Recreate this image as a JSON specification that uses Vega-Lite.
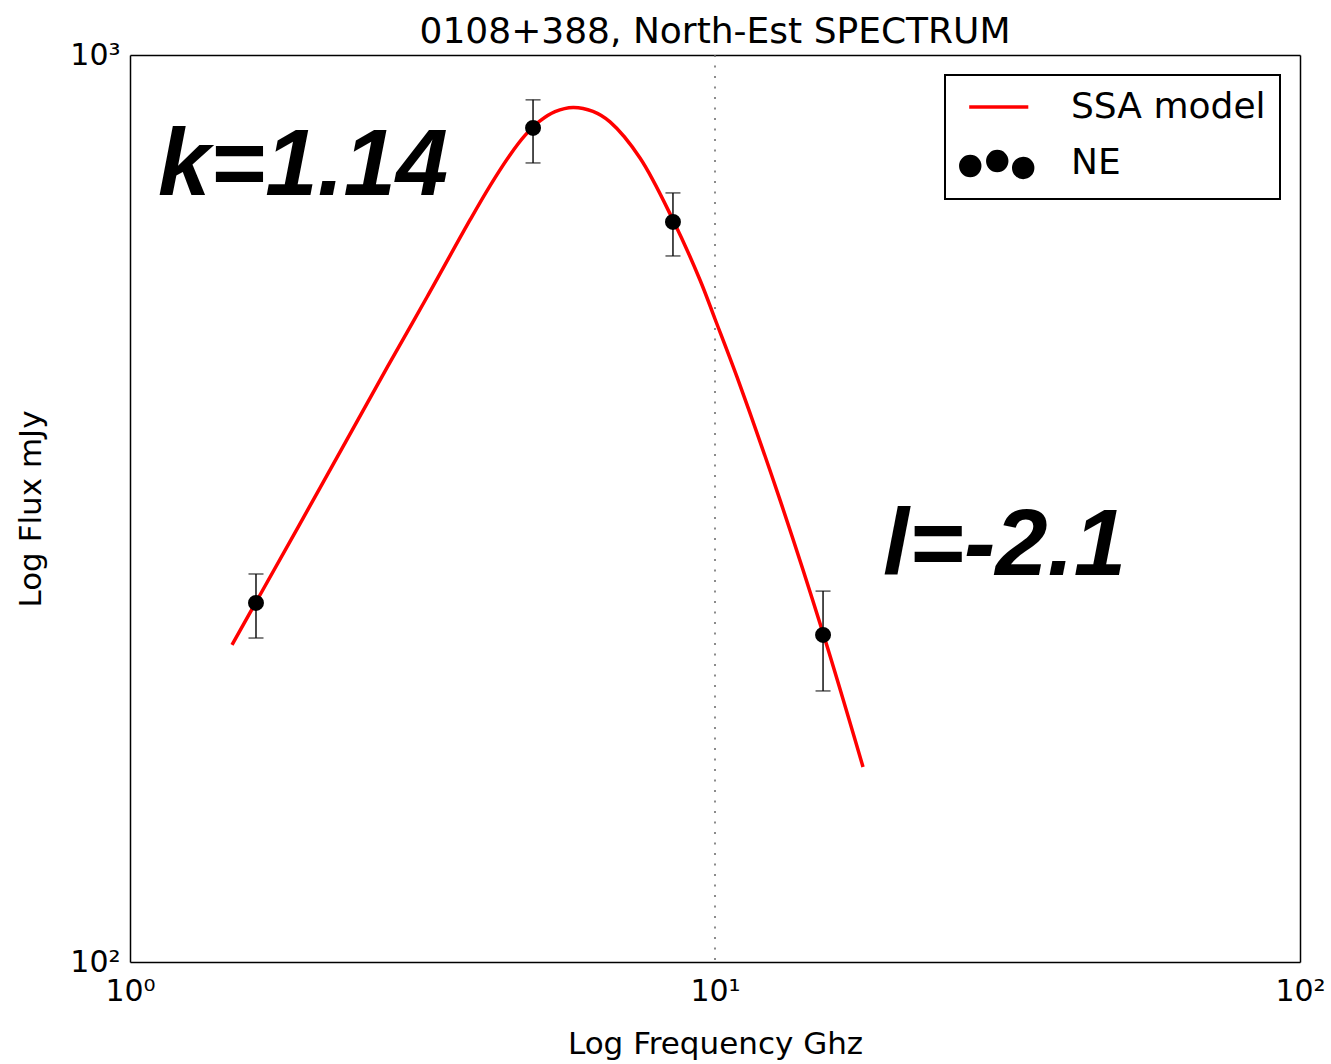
{
  "$schema": "https://vega.github.io/schema/vega-lite/v6.json",
  "width": 1170,
  "height": 907,
  "autosize": {"type": "none"},
  "padding": {"left": 130, "top": 55, "right": 31, "bottom": 102},
  "background": "white",
  "title": {"text": "0108+388, North-Est SPECTRUM", "font": "DejaVu Sans", "fontSize": 36, "fontWeight": "normal", "color": "black", "offset": 4, "dy": 15, "anchor": "middle"},
  "config": {
    "view": {"stroke": null},
    "axis": {
      "labelFont": "DejaVu Sans", "labelFontSize": 30, "labelColor": "black",
      "titleFont": "DejaVu Sans", "titleFontSize": 31, "titleFontWeight": "normal", "titleColor": "black",
      "domainColor": "black", "domainWidth": 1.5, "tickColor": "black", "tickWidth": 1.2, "tickSize": 0,
      "grid": false, "labelOverlap": false, "labelBound": false, "labelFlush": false
    }
  },
  "datasets": {
    "model": [
      {"nu": 1.494, "flux": 223.7, "series": "SSA model"},
      {"nu": 1.6423, "flux": 249.4, "series": "SSA model"},
      {"nu": 2.1127, "flux": 333.2, "series": "SSA model"},
      {"nu": 2.7606, "flux": 454.1, "series": "SSA model"},
      {"nu": 3.2194, "flux": 541.0, "series": "SSA model"},
      {"nu": 3.8129, "flux": 657.9, "series": "SSA model"},
      {"nu": 4.1246, "flux": 717.4, "series": "SSA model"},
      {"nu": 4.4628, "flux": 775.9, "series": "SSA model"},
      {"nu": 4.7338, "flux": 815.3, "series": "SSA model"},
      {"nu": 5.0218, "flux": 845.9, "series": "SSA model"},
      {"nu": 5.3283, "flux": 866.1, "series": "SSA model"},
      {"nu": 5.7195, "flux": 875.4, "series": "SSA model"},
      {"nu": 6.1848, "flux": 866.6, "series": "SSA model"},
      {"nu": 6.615, "flux": 843.8, "series": "SSA model"},
      {"nu": 7.4438, "flux": 770.0, "series": "SSA model"},
      {"nu": 8.4764, "flux": 657.9, "series": "SSA model"},
      {"nu": 9.427, "flux": 564.9, "series": "SSA model"},
      {"nu": 10.0, "flux": 511.6, "series": "SSA model"},
      {"nu": 10.904, "flux": 441.6, "series": "SSA model"},
      {"nu": 12.915, "flux": 323.2, "series": "SSA model"},
      {"nu": 15.298, "flux": 230.5, "series": "SSA model"},
      {"nu": 17.906, "flux": 164.1, "series": "SSA model"}
    ],
    "obs": [
      {"nu": 1.642, "flux": 248.8, "lo": 227.6, "hi": 267.8},
      {"nu": 4.886, "flux": 830.9, "lo": 760.3, "hi": 892.4},
      {"nu": 8.475, "flux": 654.6, "lo": 600.4, "hi": 704.6},
      {"nu": 15.30, "flux": 229.4, "lo": 199.0, "hi": 256.4}
    ],
    "notes": [
      {"nu": 1.1165, "flux": 700.9, "label": "k=1.14"},
      {"nu": 19.37, "flux": 267.1, "label": "l=-2.1"}
    ]
  },
  "resolve": {"axis": {"x": "independent", "y": "independent"}},
  "layer": [
    {
      "data": {"values": [{}]},
      "mark": {"type": "rule", "color": "#666666", "strokeWidth": 1.5, "strokeDash": [2, 8.5]},
      "encoding": {
        "x": {"datum": 10, "type": "quantitative", "scale": {"type": "log", "domain": [1, 100], "nice": false}, "axis": null}
      }
    },
    {
      "data": {"name": "model"},
      "mark": {"type": "line", "strokeWidth": 3.5, "interpolate": "catmull-rom", "clip": true},
      "encoding": {
        "x": {"field": "nu", "type": "quantitative", "scale": {"type": "log", "domain": [1, 100], "nice": false},
          "axis": {"orient": "bottom", "title": "Log Frequency Ghz", "values": [1,2,3,4,5,6,7,8,9,10,20,30,40,50,60,70,80,90,100],
            "labelExpr": "datum.value == 1 ? '10⁰' : datum.value == 10 ? '10¹' : datum.value == 100 ? '10²' : ''",
            "labelPadding": 14, "titleY": 91, "titleBaseline": "alphabetic",
            "encode": {"ticks": {"update": {"y2": {"signal": "(datum.value == 1 || datum.value == 10 || datum.value == 100) ? -10 : -5"}}}}}},
        "y": {"field": "flux", "type": "quantitative", "scale": {"type": "log", "domain": [100, 1000], "nice": false},
          "axis": {"orient": "left", "title": "Log Flux mJy", "values": [100,200,300,400,500,600,700,800,900,1000],
            "labelExpr": "datum.value == 100 ? '10²' : datum.value == 1000 ? '10³' : ''",
            "labelPadding": 10, "titleX": -90, "titleBaseline": "alphabetic",
            "encode": {"ticks": {"update": {"x2": {"signal": "(datum.value == 100 || datum.value == 1000) ? 10 : 5"}}}}}},
        "color": {"field": "series", "type": "nominal",
          "scale": {"domain": ["SSA model", "NE"], "range": ["#ff0000", "#000000"]},
          "legend": {"title": null, "orient": "top-right", "offset": 20, "padding": 14,
            "strokeColor": "black", "fillColor": "white",
            "symbolSize": 900, "labelOffset": 76, "rowPadding": 19, "labelLimit": 400,
            "labelFont": "DejaVu Sans", "labelFontSize": 36, "labelColor": "black",
            "encode": {
              "legend": {"update": {"strokeWidth": {"value": 2}}},
              "symbols": {"update": {
              "size": {"value": 900},
              "shape": {"signal": "datum.value === 'NE' ? 'M-1.08,0.2a0.63,0.63 0 1,0 1.26,0a0.63,0.63 0 1,0 -1.26,0Z M0.72,-0.13a0.63,0.63 0 1,0 1.26,0a0.63,0.63 0 1,0 -1.26,0Z M2.45,0.33a0.63,0.63 0 1,0 1.26,0a0.63,0.63 0 1,0 -1.26,0Z' : 'M-0.52,0H3.42'"},
              "fill": {"signal": "datum.value === 'NE' ? '#000000' : 'transparent'"},
              "stroke": {"signal": "datum.value === 'NE' ? 'transparent' : '#ff0000'"},
              "strokeWidth": {"value": 3.5},
              "opacity": {"value": 1}
            }}}}}
      }
    },
    {
      "data": {"name": "obs"},
      "mark": {"type": "rule", "color": "#111111", "strokeWidth": 1.5},
      "encoding": {
        "x": {"field": "nu", "type": "quantitative", "scale": {"type": "log", "domain": [1, 100], "nice": false},
          "axis": {"orient": "top", "title": null, "labels": false, "values": [1,2,3,4,5,6,7,8,9,10,20,30,40,50,60,70,80,90,100],
            "encode": {"ticks": {"update": {"y2": {"signal": "(datum.value == 1 || datum.value == 10 || datum.value == 100) ? 10 : 5"}}}}}},
        "y": {"field": "lo", "type": "quantitative", "scale": {"type": "log", "domain": [100, 1000], "nice": false},
          "axis": {"orient": "right", "title": null, "labels": false, "values": [100,200,300,400,500,600,700,800,900,1000],
            "encode": {"ticks": {"update": {"x2": {"signal": "(datum.value == 100 || datum.value == 1000) ? -10 : -5"}}}}}},
        "y2": {"field": "hi"}
      }
    },
    {
      "data": {"name": "obs"},
      "mark": {"type": "tick", "orient": "horizontal", "color": "#111111", "size": 15, "thickness": 1.5},
      "encoding": {
        "x": {"field": "nu", "type": "quantitative", "scale": {"type": "log", "domain": [1, 100], "nice": false}, "axis": null},
        "y": {"field": "lo", "type": "quantitative", "scale": {"type": "log", "domain": [100, 1000], "nice": false}, "axis": null}
      }
    },
    {
      "data": {"name": "obs"},
      "mark": {"type": "tick", "orient": "horizontal", "color": "#111111", "size": 15, "thickness": 1.5},
      "encoding": {
        "x": {"field": "nu", "type": "quantitative", "scale": {"type": "log", "domain": [1, 100], "nice": false}, "axis": null},
        "y": {"field": "hi", "type": "quantitative", "scale": {"type": "log", "domain": [100, 1000], "nice": false}, "axis": null}
      }
    },
    {
      "data": {"name": "obs"},
      "mark": {"type": "circle", "color": "#000000", "size": 254, "opacity": 1},
      "encoding": {
        "x": {"field": "nu", "type": "quantitative", "scale": {"type": "log", "domain": [1, 100], "nice": false}, "axis": null},
        "y": {"field": "flux", "type": "quantitative", "scale": {"type": "log", "domain": [100, 1000], "nice": false}, "axis": null}
      }
    },
    {
      "data": {"name": "notes"},
      "mark": {"type": "text", "align": "left", "baseline": "alphabetic", "font": "Liberation Sans", "fontSize": 94, "fontWeight": "bold", "fontStyle": "italic", "color": "#000000"},
      "encoding": {
        "x": {"field": "nu", "type": "quantitative", "scale": {"type": "log", "domain": [1, 100], "nice": false}, "axis": null},
        "y": {"field": "flux", "type": "quantitative", "scale": {"type": "log", "domain": [100, 1000], "nice": false}, "axis": null},
        "text": {"field": "label"}
      }
    }
  ]
}
